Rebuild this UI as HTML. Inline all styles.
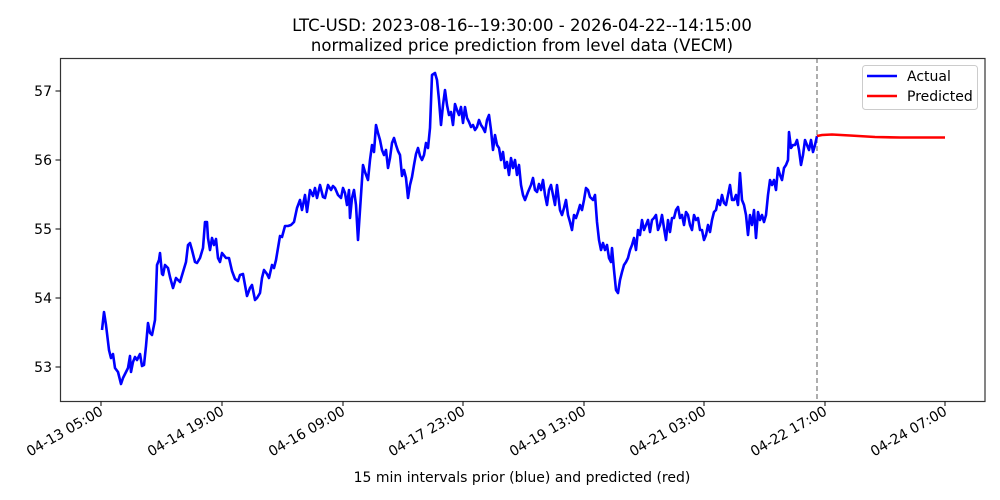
<!DOCTYPE html>
<html><head><meta charset="utf-8"><style>body{margin:0;background:#fff}svg{display:block}text{font-family:"DejaVu Sans","Liberation Sans",sans-serif;fill:#000}</style></head><body>
<svg width="1000" height="500" viewBox="0 0 1000 500" xmlns="http://www.w3.org/2000/svg">
<rect width="1000" height="500" fill="#fff"/>
<text x="522" y="31" font-size="16.5" text-anchor="middle">LTC-USD: 2023-08-16--19:30:00 - 2026-04-22--14:15:00</text>
<text x="522" y="51" font-size="16.5" text-anchor="middle">normalized price prediction from level data (VECM)</text>
<line x1="817" y1="58" x2="817" y2="401" stroke="#777" stroke-width="1.2" stroke-dasharray="5,3"/>
<polyline fill="none" stroke="#0000ff" stroke-width="2.6" stroke-linejoin="round" points="102,330 104,312 106,325 109,350 111,358 113,354 115,368 118,372 121,384 123,378 126,372 128,368 130,356 131,372 133,362 135,357 137,360 140,354 142,366 144,365 146,346 148,323 150,333 152,335 155,320 157,265 159,260 160,253 162,274 163,275 165,265 168,268 170,277 173,288 176,278 180,282 183,272 186,262 188,245 190,243 192,250 195,262 197,263 200,258 203,248 205,222 207,222 208,238 210,250 212,238 214,245 216,239 218,258 220,262 222,253 226,258 229,258 232,271 235,279 238,281 240,275 243,274 245,285 247,296 250,288 252,285 255,300 257,298 260,293 262,278 264,270 267,274 269,278 272,265 274,268 276,260 278,248 280,236 282,237 285,226 288,226 291,225 294,222 297,208 300,200 302,210 305,195 307,212 310,190 313,196 315,188 317,198 320,185 323,197 325,198 328,185 331,190 333,186 335,188 338,195 341,198 343,188 345,193 347,205 349,190 350,218 352,198 354,190 356,205 358,240 360,210 363,165 365,172 368,180 370,160 372,145 374,152 376,125 378,133 380,140 382,150 384,155 386,150 388,168 390,158 392,143 394,138 396,145 398,151 400,155 402,176 404,170 406,178 408,198 410,185 412,177 414,165 416,154 418,148 420,156 422,160 424,155 426,143 428,148 430,128 432,75 435,73 437,80 439,100 441,125 443,105 445,90 447,105 449,115 451,112 453,125 455,104 457,110 459,115 461,107 463,123 465,107 467,118 469,122 471,127 473,125 475,130 477,127 479,120 481,125 483,128 485,132 487,120 489,115 491,130 493,150 495,135 497,145 499,148 501,160 503,152 505,168 507,162 509,175 511,158 513,168 515,160 517,175 519,165 521,185 523,195 525,200 528,192 531,185 533,178 535,190 537,192 539,184 541,190 543,180 545,195 547,205 549,190 551,185 553,195 555,205 557,185 560,210 562,215 564,208 566,200 568,215 570,222 572,230 574,215 576,218 578,212 580,205 582,210 584,200 586,188 588,190 590,197 593,200 595,195 597,222 599,240 601,250 603,243 605,250 607,245 609,258 611,262 612,248 614,270 616,290 618,293 620,280 622,272 624,265 626,262 628,258 630,250 632,245 634,238 636,250 638,230 640,235 642,220 644,230 646,225 648,220 650,232 652,220 654,218 656,215 658,230 660,225 662,215 664,228 666,240 668,220 670,232 672,218 674,218 676,210 678,207 680,218 682,215 684,225 686,212 688,215 690,225 692,230 694,215 696,220 698,218 700,230 702,230 704,240 706,235 708,225 710,232 712,220 714,212 716,210 718,200 720,205 722,195 724,203 726,205 728,195 730,185 732,200 734,200 736,195 738,205 740,173 742,200 744,205 746,215 748,235 750,215 752,225 754,210 756,238 758,212 760,220 762,215 764,222 766,215 768,195 770,180 772,185 774,180 776,190 778,168 780,175 782,180 784,168 786,165 788,160 789,132 791,148 793,145 795,145 797,140 799,150 801,165 803,155 805,140 807,145 809,150 811,140 813,152 815,145 817,136"/>
<polyline fill="none" stroke="#ff0000" stroke-width="2.6" points="817,136 822,135 832,134.5 850,135.5 875,137 900,137.5 945,137.5"/>
<rect x="60.5" y="58.5" width="924.5" height="343" fill="none" stroke="#333" stroke-width="1.2"/>
<g stroke="#000" stroke-width="1">
<line x1="60.5" y1="91" x2="55.5" y2="91"/><line x1="60.5" y1="160" x2="55.5" y2="160"/><line x1="60.5" y1="229" x2="55.5" y2="229"/><line x1="60.5" y1="298" x2="55.5" y2="298"/><line x1="60.5" y1="367" x2="55.5" y2="367"/>
<line x1="101" y1="401.5" x2="101" y2="406"/><line x1="222" y1="401.5" x2="222" y2="406"/><line x1="343" y1="401.5" x2="343" y2="406"/><line x1="463" y1="401.5" x2="463" y2="406"/><line x1="584" y1="401.5" x2="584" y2="406"/><line x1="704" y1="401.5" x2="704" y2="406"/><line x1="825" y1="401.5" x2="825" y2="406"/><line x1="945" y1="401.5" x2="945" y2="406"/>
</g>
<g font-size="14" text-anchor="end">
<text x="52" y="96">57</text><text x="52" y="165">56</text><text x="52" y="234">55</text><text x="52" y="303">54</text><text x="52" y="372">53</text>
</g>
<g font-size="14" text-anchor="end">
<text transform="translate(104,414) rotate(-30)">04-13 05:00</text>
<text transform="translate(225,414) rotate(-30)">04-14 19:00</text>
<text transform="translate(346,414) rotate(-30)">04-16 09:00</text>
<text transform="translate(466,414) rotate(-30)">04-17 23:00</text>
<text transform="translate(587,414) rotate(-30)">04-19 13:00</text>
<text transform="translate(707,414) rotate(-30)">04-21 03:00</text>
<text transform="translate(828,414) rotate(-30)">04-22 17:00</text>
<text transform="translate(948,414) rotate(-30)">04-24 07:00</text>
</g>
<text x="522" y="482" font-size="14" text-anchor="middle">15 min intervals prior (blue) and predicted (red)</text>
<rect x="862.5" y="65.5" width="115" height="44" rx="3" fill="#fff" stroke="#ccc" stroke-width="1"/>
<line x1="867" y1="76" x2="897" y2="76" stroke="#0000ff" stroke-width="2.6"/>
<line x1="867" y1="96" x2="897" y2="96" stroke="#ff0000" stroke-width="2.6"/>
<text x="907" y="81" font-size="14">Actual</text>
<text x="907" y="101" font-size="14">Predicted</text>
</svg>
</body></html>
